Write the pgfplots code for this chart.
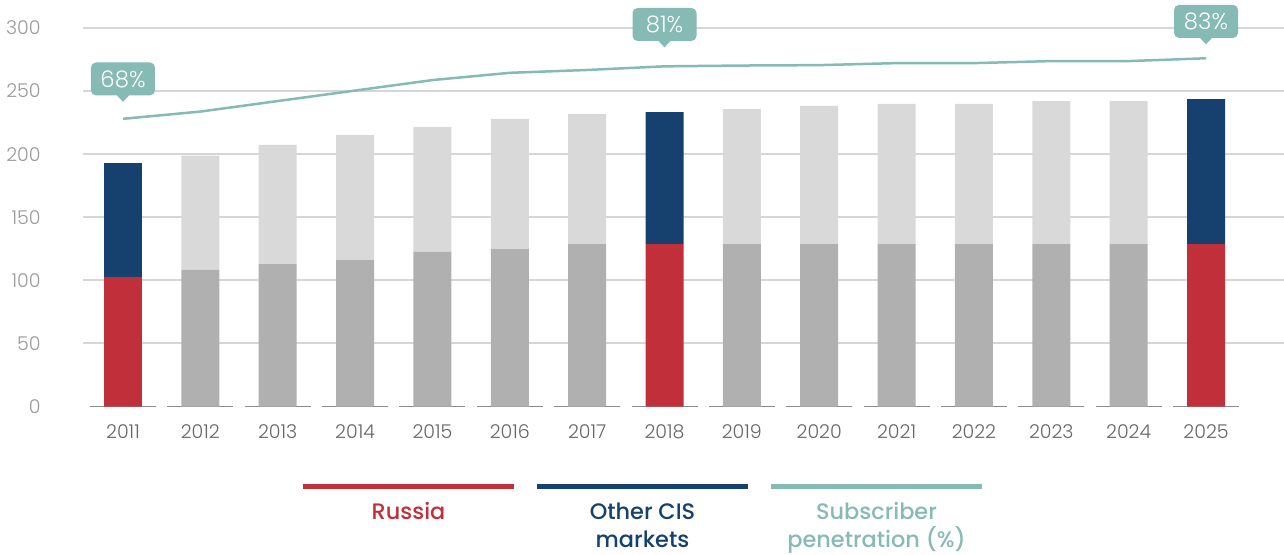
\documentclass[border=0pt]{standalone}
\usepackage{fontspec}
\setmainfont{Poppins}[UprightFont=* Light, BoldFont=* Medium]
\newfontfamily\legfont{Poppins}[UprightFont=* Medium]
\usepackage{pgfplots}
\usepackage{pgfplotstable}
\pgfplotsset{compat=1.18}
\definecolor{cred}{HTML}{C1303A}
\definecolor{cblue}{HTML}{16416F}
\definecolor{cteal}{HTML}{86BAB5}
\definecolor{cdgray}{HTML}{B0B0B0}
\definecolor{clgray}{HTML}{D9D9D9}
\definecolor{cgrid}{HTML}{D6D6D6}
\definecolor{caxis}{HTML}{8C8C8C}
\definecolor{cxlab}{HTML}{666666}
\definecolor{cylab}{HTML}{9A9A9A}

% x: 0 = 2011 ... 14 = 2025
\pgfplotstableread{
x  rushl  rusgr  othhl  othgr
0  102.6  0      90.4   0
1  0      108.2  0      90.6
2  0      112.9  0      94.4
3  0      116.1  0      99.1
4  0      122.5  0      99.0
5  0      124.8  0      103.1
6  0      128.8  0      103.0
7  128.8  0      104.6  0
8  0      128.8  0      107.0
9  0      128.8  0      109.4
10 0      128.8  0      111.0
11 0      128.8  0      111.0
12 0      128.8  0      113.3
13 0      128.8  0      113.3
14 128.8  0      114.9  0
}\bars

\pgfplotstableread{
x  pen
0  68.0
1  69.8
2  72.4
3  75.0
4  77.6
5  79.4
6  80.1
7  81.0
8  81.2
9  81.3
10 81.8
11 81.8
12 82.3
13 82.3
14 83.0
}\penetration

\begin{document}
\begin{tikzpicture}
\useasboundingbox (-41.5pt,-73.75pt) rectangle (600.5pt,203.25pt);
\begin{axis}[
  scale only axis,
  width=600.5pt, height=189.25pt,
  xmin=-0.517, xmax=15.008,
  ymin=0, ymax=300,
  ybar stacked,
  bar width=0.491,
  axis line style={draw=none},
  tick style={draw=none},
  xtick pos=bottom, ytick pos=left,
  ytick={50,100,...,300},
  extra y ticks={0},
  extra y tick style={grid=none},
  xtick={0,...,14},
  xticklabels={2011,2012,2013,2014,2015,2016,2017,2018,2019,2020,2021,2022,2023,2024,2025},
  major tick length=0pt,
  ymajorgrids,
  grid style={cgrid, line width=1pt},
  /pgf/number format/assume math mode=true,
  yticklabel style={anchor=east, inner sep=0pt, xshift=-21pt, font=\fontsize{9.5}{11}\selectfont, text=cylab},
  xticklabel style={anchor=center, inner sep=0pt, yshift=-12.6pt, font=\fontsize{9.5}{11}\selectfont, text=cxlab},
]
\addplot[fill=cred, draw=none] table[x=x, y=rushl] {\bars};
\addplot[fill=cdgray, draw=none] table[x=x, y=rusgr] {\bars};
\addplot[fill=cblue, draw=none] table[x=x, y=othhl] {\bars};
\addplot[fill=clgray, draw=none] table[x=x, y=othgr] {\bars};
\foreach \i in {0,...,14} {
  \edef\tmp{\noexpand\draw[caxis, line width=1pt] (axis cs:\i-0.4265,0) -- (axis cs:\i+0.4265,0);}
  \tmp
}
\end{axis}
\begin{axis}[
  scale only axis,
  width=600.5pt, height=189.25pt,
  xmin=-0.517, xmax=15.008,
  ymin=-3.25, ymax=90.5,
  axis lines=none,
  clip=false,
]
\addplot[cteal, line width=1.25pt, no markers] table[x=x, y=pen] {\penetration};
% callouts
\foreach \xx/\yy/\off/\lab in {0/68/8.5/68\%, 7/81/9.5/81\%, 14/83/7/83\%} {
  \edef\tmp{
    \noexpand\fill[cteal] ([xshift=-3.4pt, yshift=\off pt+3.6pt]axis cs:\xx,\yy) -- ([yshift=\off pt]axis cs:\xx,\yy) -- ([xshift=3.4pt, yshift=\off pt+3.6pt]axis cs:\xx,\yy) -- cycle;
    \noexpand\node[fill=cteal, rounded corners=2.5pt, minimum width=32pt, minimum height=16.5pt, inner sep=0pt, anchor=south, text=white, font=\noexpand\fontsize{11.4}{13}\noexpand\selectfont] at ([yshift=\off pt+3pt]axis cs:\xx,\yy) {\lab};
  }
  \tmp
}
\end{axis}
% legend
\draw[cred, line width=2.5pt] (110pt,-39.75pt) -- (215.5pt,-39.75pt);
\draw[cblue, line width=2.5pt] (227pt,-39.75pt) -- (332.5pt,-39.75pt);
\draw[cteal, line width=2.5pt] (344pt,-39.75pt) -- (449.5pt,-39.75pt);
\begin{scope}[every node/.style={anchor=base, inner sep=0pt, font=\legfont\fontsize{11.2}{13}\selectfont}]
\node[text=cred] at (162.75pt,-56.25pt) {Russia};
\node[text=cblue] at (279.75pt,-56.25pt) {Other CIS};
\node[text=cblue] at (279.75pt,-70.25pt) {markets};
\node[text=cteal] at (396.75pt,-56.25pt) {Subscriber};
\node[text=cteal] at (396.75pt,-70.25pt) {penetration (\%)};
\end{scope}
\end{tikzpicture}
\end{document}
